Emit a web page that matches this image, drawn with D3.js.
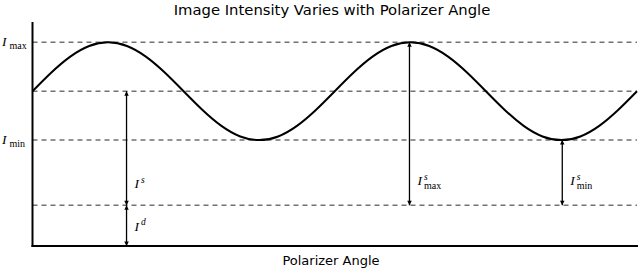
<!DOCTYPE html>
<html lang="en">
<head>
<meta charset="UTF-8">
<title>Image Intensity Varies with Polarizer Angle</title>
<script src="https://d3js.org/d3.v7.min.js"></script>
<style>
  body { margin: 0; background: #fff; }
  .math { font-family: "Liberation Serif", "DejaVu Serif", serif; }
</style>
</head>
<body>
<svg id="chart" width="640" height="268"></svg>
<script>
// polarizer angle (degrees) and image intensity
const angles = [0, 22.5, 45, 67.5, 90, 112.5, 135, 157.5, 180, 202.5, 225, 247.5, 270, 292.5, 315, 337.5,
                360, 382.5, 405, 427.5, 450, 472.5, 495, 517.5, 540, 562.5, 585, 607.5, 630, 652.5, 675, 697.5, 720];
const intensity = [3.8, 4.26, 4.65, 4.91, 5.0, 4.91, 4.65, 4.26, 3.8, 3.34, 2.95, 2.69, 2.6, 2.69, 2.95, 3.34,
                   3.8, 4.26, 4.65, 4.91, 5.0, 4.91, 4.65, 4.26, 3.8, 3.34, 2.95, 2.69, 2.6, 2.69, 2.95, 3.34, 3.8];

// reference levels
const levelNames = ["Imax", "Imean", "Imin", "Id"];
const levelValues = [5.0, 3.8, 2.6, 1.0];

// double arrows: angle, from level, to level, label
const arrowAngles = [112, 112, 449, 631];
const arrowFrom = [3.8, 1.0, 5.0, 2.6];
const arrowTo = [1.0, 0, 1.0, 1.0];
const arrowLabels = [["s", ""], ["d", ""], ["s", "max"], ["s", "min"]];

const svg = d3.select("#chart");
const margin = { top: 22, right: 3, bottom: 22, left: 32.5 };
const width = +svg.attr("width");
const height = +svg.attr("height");

const x = d3.scaleLinear().domain([0, 720]).range([margin.left, width - margin.right]);
const y = d3.scaleLinear().domain([0, 5.5]).range([height - margin.bottom, margin.top]);

// arrow head marker
const defs = svg.append("defs");
defs.append("marker")
    .attr("id", "head")
    .attr("viewBox", "0 0 10 10")
    .attr("refX", 10).attr("refY", 5)
    .attr("markerUnits", "userSpaceOnUse")
    .attr("markerWidth", 7).attr("markerHeight", 4.5)
    .attr("orient", "auto-start-reverse")
    .append("path")
    .attr("d", "M0,0 L10,5 L0,10 Z")
    .attr("fill", "#000");

// dashed levels
svg.selectAll(".level")
    .data(levelValues)
    .enter().append("line")
    .attr("class", "level")
    .attr("x1", x(0)).attr("x2", x(720))
    .attr("y1", d => y(d)).attr("y2", d => y(d))
    .attr("stroke", "#727272")
    .attr("stroke-width", 1.5)
    .attr("stroke-dasharray", "5,4");

// intensity curve
const line = d3.line()
    .x((d, i) => x(angles[i]))
    .y(d => y(d))
    .curve(d3.curveNatural);

svg.append("path")
    .datum(intensity)
    .attr("fill", "none")
    .attr("stroke", "#000")
    .attr("stroke-width", 2)
    .attr("d", line);

// arrows
svg.selectAll(".arrow")
    .data(arrowAngles)
    .enter().append("line")
    .attr("class", "arrow")
    .attr("x1", d => x(d)).attr("x2", d => x(d))
    .attr("y1", (d, i) => y(arrowFrom[i])).attr("y2", (d, i) => y(arrowTo[i]))
    .attr("stroke", "#000")
    .attr("stroke-width", 1.3)
    .attr("marker-start", "url(#head)")
    .attr("marker-end", "url(#head)");

// arrow labels: sit just above the lower end, except the short I^d one
arrowAngles.forEach((a, i) => {
    const cx = x(a) + 8;
    const cy = arrowTo[i] === 0
        ? y((arrowFrom[i] + arrowTo[i]) / 2) + 5
        : y(arrowTo[i]) - (arrowLabels[i][1] ? 20 : 17);
    const g = svg.append("g").attr("class", "math");
    g.append("text").attr("x", cx).attr("y", cy)
        .attr("font-size", 13.5).attr("font-style", "italic").text("I");
    g.append("text").attr("x", cx + 6.5).attr("y", cy - 5.5)
        .attr("font-size", 9.5).attr("font-style", "italic").text(arrowLabels[i][0]);
    if (arrowLabels[i][1]) {
        g.append("text").attr("x", cx + 6.5).attr("y", cy + 4)
            .attr("font-size", 10).text(arrowLabels[i][1]);
    }
});

// y level labels
[["max", levelValues[0]], ["min", levelValues[2]]].forEach(([sub, v]) => {
    const g = svg.append("g").attr("class", "math");
    g.append("text").attr("x", 2).attr("y", y(v) + 4)
        .attr("font-size", 13.5).attr("font-style", "italic").text("I");
    g.append("text").attr("x", 9.5).attr("y", y(v) + 6.5)
        .attr("font-size", 10).text(sub);
});

// spines
svg.append("line")
    .attr("x1", x(0)).attr("x2", x(0))
    .attr("y1", y(5.5)).attr("y2", y(0) + 1)
    .attr("stroke", "#000").attr("stroke-width", 2);
svg.append("line")
    .attr("x1", x(0) - 1).attr("x2", x(720) + 1)
    .attr("y1", y(0)).attr("y2", y(0))
    .attr("stroke", "#000").attr("stroke-width", 2);

// title and axis label
svg.append("text")
    .attr("x", 332).attr("y", 15)
    .attr("text-anchor", "middle")
    .style("font-family", "DejaVu Sans")
    .style("font-size", "14.8px")
    .text("Image Intensity Varies with Polarizer Angle");

svg.append("text")
    .attr("x", 331).attr("y", 265)
    .attr("text-anchor", "middle")
    .style("font-family", "DejaVu Sans")
    .style("font-size", "13px")
    .text("Polarizer Angle");
</script>
</body>
</html>
